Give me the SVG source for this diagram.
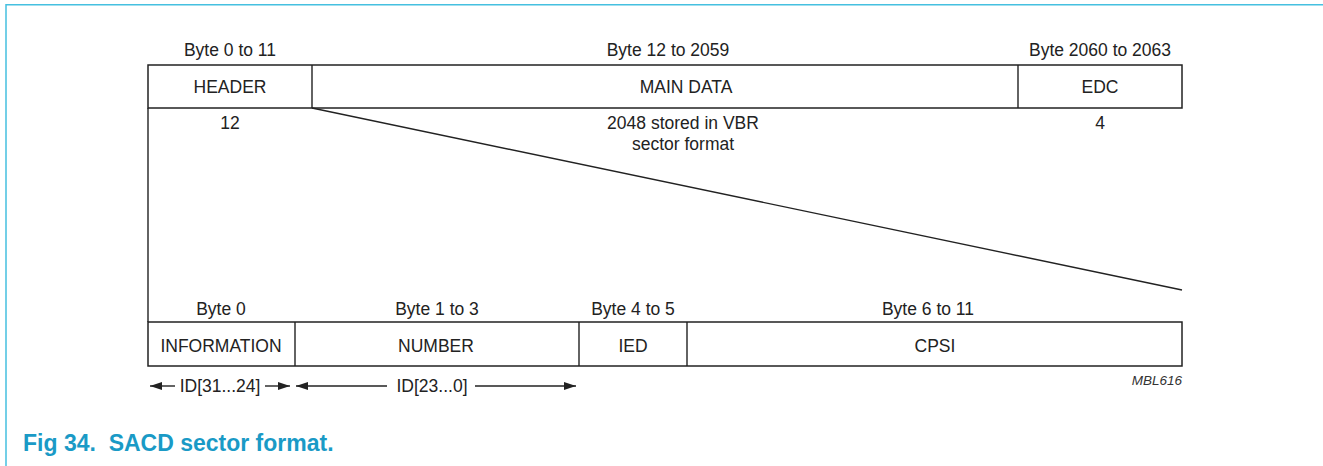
<svg xmlns="http://www.w3.org/2000/svg" width="1323" height="466" viewBox="0 0 1323 466">
<style>
.t{font-family:"Liberation Sans",Arial,sans-serif;font-size:17.5px;fill:#222;text-anchor:middle}
.box{fill:#fff;stroke:#222;stroke-width:1.5}
.ln{stroke:#222;stroke-width:1.4;fill:none}
.frame{stroke:#45c0e0;stroke-width:1.5;fill:none}
</style>
<defs>
<marker id="ah" viewBox="0 0 12 8" refX="12" refY="4" markerWidth="12" markerHeight="8" markerUnits="userSpaceOnUse" orient="auto-start-reverse">
<path d="M0,0 L12,4 L0,8 Z" fill="#222"/>
</marker>
</defs>
<rect width="1323" height="466" fill="#fff"/>
<g id="frame">
<path class="frame" d="M6,466 V4.7 H1323"/>
</g>
<g id="sector">
<rect class="box" x="148" y="65" width="1034" height="43"/>
<line class="ln" x1="312" y1="65" x2="312" y2="108"/>
<line class="ln" x1="1018" y1="65" x2="1018" y2="108"/>
<text class="t" x="230" y="56">Byte 0 to 11</text>
<text class="t" x="668" y="56">Byte 12 to 2059</text>
<text class="t" x="1100" y="56">Byte 2060 to 2063</text>
<text class="t" x="230" y="93">HEADER</text>
<text class="t" x="686" y="93">MAIN DATA</text>
<text class="t" x="1100" y="93">EDC</text>
<text class="t" x="230" y="129">12</text>
<text class="t" x="683" y="129">2048 stored in VBR</text>
<text class="t" x="683" y="150">sector format</text>
<text class="t" x="1100" y="129">4</text>
</g>
<g id="connectors">
<line class="ln" x1="148" y1="108" x2="148" y2="322"/>
<line class="ln" x1="312" y1="108" x2="1182" y2="290"/>
<line class="ln" x1="175" y1="386" x2="150" y2="386" marker-end="url(#ah)"/>
<line class="ln" x1="265" y1="386" x2="290" y2="386" marker-end="url(#ah)"/>
<line class="ln" x1="387" y1="386" x2="296" y2="386" marker-end="url(#ah)"/>
<line class="ln" x1="475" y1="386" x2="576" y2="386" marker-end="url(#ah)"/>
</g>
<g id="header">
<rect class="box" x="148" y="322" width="1034" height="44"/>
<line class="ln" x1="295" y1="322" x2="295" y2="366"/>
<line class="ln" x1="579" y1="322" x2="579" y2="366"/>
<line class="ln" x1="687" y1="322" x2="687" y2="366"/>
<text class="t" x="221" y="315">Byte 0</text>
<text class="t" x="437" y="315">Byte 1 to 3</text>
<text class="t" x="633" y="315">Byte 4 to 5</text>
<text class="t" x="928" y="315">Byte 6 to 11</text>
<text class="t" x="221" y="352">INFORMATION</text>
<text class="t" x="436" y="352">NUMBER</text>
<text class="t" x="633" y="352">IED</text>
<text class="t" x="935" y="352">CPSI</text>
<text class="t" x="220" y="392">ID[31...24]</text>
<text class="t" x="432" y="392">ID[23...0]</text>
</g>
<text x="1182" y="385" style="font-family:'Liberation Sans',Arial,sans-serif;font-size:13.5px;font-style:italic;fill:#333;text-anchor:end">MBL616</text>
<text x="23" y="451" style="font-family:'Liberation Sans',Arial,sans-serif;font-size:23px;font-weight:bold;fill:#1a9ac6" xml:space="preserve">Fig 34.  SACD sector format.</text>
</svg>
